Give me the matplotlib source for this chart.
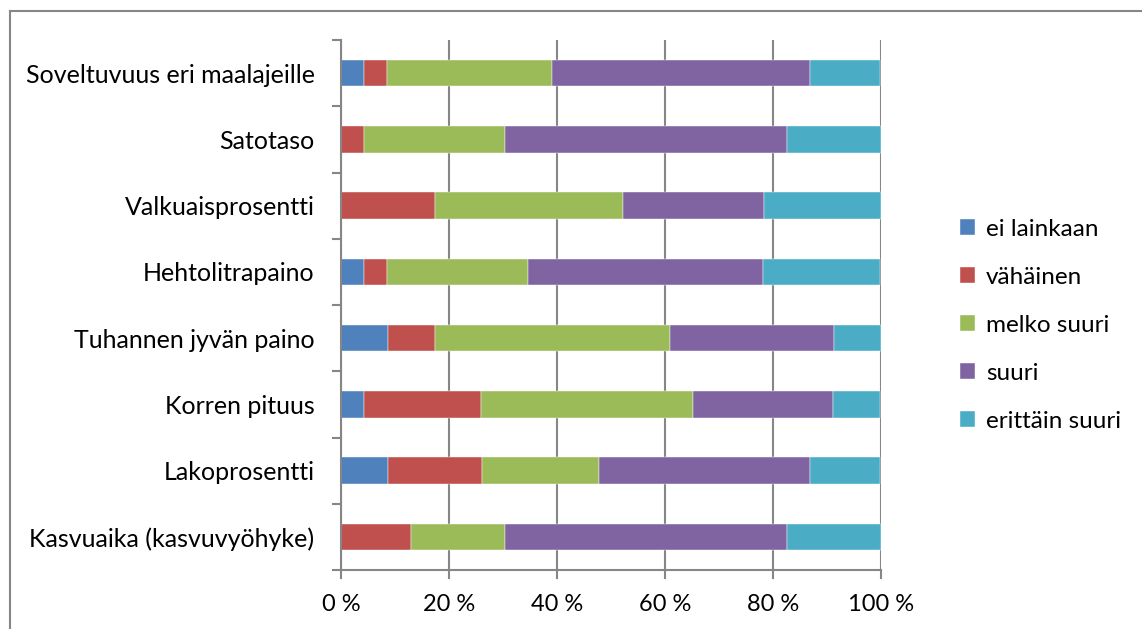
import matplotlib
matplotlib.use("Agg")
import matplotlib.pyplot as plt
from matplotlib.lines import Line2D
import numpy as np

plt.rcParams['font.family'] = ['Lato', 'DejaVu Sans']

categories = [
    "Soveltuvuus eri maalajeille",
    "Satotaso",
    "Valkuaisprosentti",
    "Hehtolitrapaino",
    "Tuhannen jyvän paino",
    "Korren pituus",
    "Lakoprosentti",
    "Kasvuaika (kasvuvyöhyke)",
]
series_names = ["ei lainkaan", "vähäinen", "melko suuri", "suuri", "erittäin suuri"]

# share of answers (%) per category, top to bottom
ei_lainkaan   = [4.3, 0.0, 0.0, 4.3, 8.7, 4.3, 8.7, 0.0]
vahainen      = [4.3, 4.3, 17.4, 4.3, 8.7, 21.7, 17.4, 13.0]
melko_suuri   = [30.4, 26.1, 34.8, 26.1, 43.5, 39.1, 21.7, 17.4]
suuri         = [47.8, 52.2, 26.1, 43.5, 30.4, 26.1, 39.1, 52.2]
erittain_suuri = [13.0, 17.4, 21.7, 21.7, 8.7, 8.7, 13.0, 17.4]

series = [ei_lainkaan, vahainen, melko_suuri, suuri, erittain_suuri]
colors = ["#4F81BD", "#C0504D", "#9BBB59", "#8064A2", "#4BACC6"]
xticks = [0, 20, 40, 60, 80, 100]
xtick_labels = ["0 %", "20 %", "40 %", "60 %", "80 %", "100 %"]

W, H = 1142, 629
fig = plt.figure(figsize=(W / 100, H / 100), dpi=100)
ax = fig.add_axes([341 / W, 1 - 570 / H, (881 - 341) / W, (570 - 40) / H])

grid_col = "#868686"
n = len(categories)
y = np.arange(n)[::-1]
left = np.zeros(n)
for vals, name, col in zip(series, series_names, colors):
    vals = np.array(vals)
    ax.barh(y, vals, left=left, height=0.4, color=col, label=name,
            edgecolor="white", linewidth=0.3, zorder=3)
    left += vals

ax.set_xlim(0, 100)
ax.set_ylim(-0.5, n - 0.5)
ax.set_xticks(xticks)
ax.set_xticklabels(xtick_labels, fontsize=17)
ax.set_yticks(y)
ax.set_yticklabels(categories, fontsize=18)
ax.tick_params(axis="y", length=0, pad=19)
ax.tick_params(axis="x", length=0, pad=17)

# category separators as outside ticks on the left
for b in np.arange(-0.5, n, 1.0):
    ax.add_line(Line2D([-1.5, 0], [b, b], color=grid_col, lw=1.5,
                       clip_on=False, zorder=4))
# x ticks below the axis
for t in xticks:
    ax.add_line(Line2D([t, t], [-0.5, -0.62], color=grid_col, lw=1.5,
                       clip_on=False, zorder=4))

ax.xaxis.grid(True, color=grid_col, lw=1.5, zorder=0)
for s in ["top", "right"]:
    ax.spines[s].set_visible(False)
for s in ["left", "bottom"]:
    ax.spines[s].set_color(grid_col)
    ax.spines[s].set_linewidth(1.5)
    ax.spines[s].set_zorder(4)

leg = fig.legend(loc="upper left", bbox_to_anchor=(950 / W, 1 - 209 / H),
                 frameon=False, fontsize=17.5, handlelength=0.62, handleheight=0.62,
                 handletextpad=0.45, labelspacing=1.11, borderaxespad=0)

# chart area frame
fig.add_artist(Line2D([9.5 / W, 9.5 / W], [0, 1 - 11 / H], color=grid_col,
                      lw=1.5, transform=fig.transFigure))
fig.add_artist(Line2D([9.5 / W, 1], [1 - 11 / H, 1 - 11 / H], color=grid_col,
                      lw=1.5, transform=fig.transFigure))

fig.savefig("out.png", dpi=100)
